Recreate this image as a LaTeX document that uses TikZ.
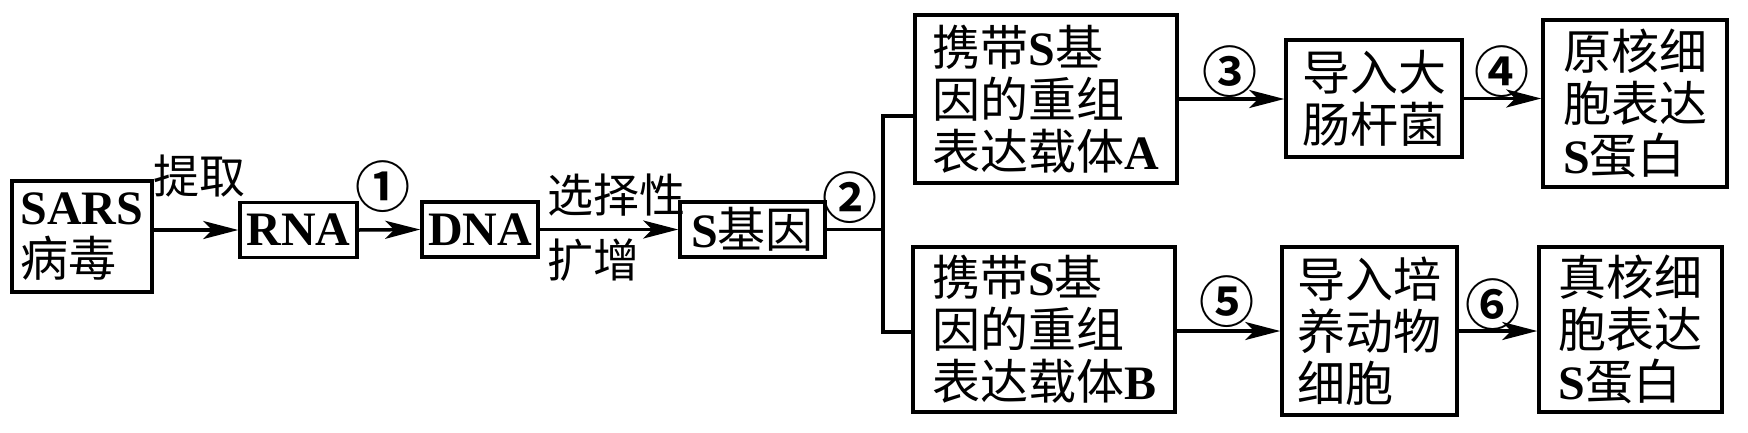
\documentclass[tikz,border=0pt]{standalone}
\usepackage{fontspec}
\setmainfont{Liberation Serif}
\newfontfamily\cjk{Noto Sans CJK SC}[BoldFont={Noto Sans CJK SC Bold}]
\usetikzlibrary{arrows.meta}
\newcommand\zh[1]{{\cjk #1}}
\newcommand\en[1]{{\bfseries #1}}
\tikzset{
  box/.style={draw, line width=3.5pt, inner sep=0pt, align=left, font=\fontsize{48}{52}\selectfont},
  lbl/.style={inner sep=0pt, font=\fontsize{46}{52}\selectfont\cjk},
  num/.style={inner sep=0pt, font=\fontsize{55}{55}\selectfont\cjk\bfseries},
  conn/.style={line width=3.5pt},
  arr/.style={conn, -{Stealth[length=35pt,width=18pt,inset=9pt]}}
}
\begin{document}
\begin{tikzpicture}[x=1pt,y=-1pt]
\fill[white] (0,0) rectangle (1748,432);
\useasboundingbox (0,0) rectangle (1748,432);
% boxes
\node[box, minimum width=140pt, minimum height=111pt] (sars) at (82,236.5) {\en{SARS}\\\zh{病毒}};
\node[box, minimum width=117pt, minimum height=55pt] (rna) at (298.5,230) {\en{RNA}};
\node[box, minimum width=116pt, minimum height=55pt] (dna) at (480,229.5) {\en{DNA}};
\node[box, minimum width=145pt, minimum height=55pt] (sg) at (752.5,229.5) {\en{S}\zh{基因}};
\node[box, minimum width=262pt, minimum height=168pt] (va) at (1046,99) {\zh{携带}\en{S}\zh{基}\\\zh{因的重组}\\\zh{表达载体}\en{A}};
\node[box, minimum width=262pt, minimum height=165pt] (vb) at (1044,329.5) {\zh{携带}\en{S}\zh{基}\\\zh{因的重组}\\\zh{表达载体}\en{B}};
\node[box, minimum width=176pt, minimum height=117pt] (ec) at (1374,98.5) {\zh{导入大}\\\zh{肠杆菌}};
\node[box, minimum width=175pt, minimum height=168pt] (ac) at (1369.5,331) {\zh{导入培}\\\zh{养动物}\\\zh{细胞}};
\node[box, minimum width=184pt, minimum height=167pt] (pk) at (1635,103.5) {\zh{原核细}\\\zh{胞表达}\\\en{S}\zh{蛋白}};
\node[box, minimum width=183pt, minimum height=165pt] (ek) at (1630.5,329.5) {\zh{真核细}\\\zh{胞表达}\\\en{S}\zh{蛋白}};
% labels
\node[lbl] (l1) at (199,176) {提取};
\node[num] (n1) at (383,187) {①};
\node[lbl, anchor=west] (l2) at (547,195) {选择性};
\node[lbl, anchor=west] (l3) at (547,260) {扩增};
\node[num] (n2) at (850,198) {②};
\node[num] (n3) at (1230,72) {③};
\node[num] (n4) at (1502,72) {④};
\node[num] (n5) at (1227,302) {⑤};
\node[num] (n6) at (1493,305) {⑥};
% connectors
\coordinate (jm) at (883,229.5);
\coordinate (ja) at (883,116);
\coordinate (jb) at (883,332);
\draw[arr] (sars.east |- rna.west) -- (rna.west);
\draw[arr] (rna.east) -- (dna.west);
\draw[arr] (dna.east) -- (sg.west);
\draw[conn] (sg.east) -- (jm);
\draw[conn] (va.west |- ja) -- (ja) -- (jb) -- (vb.west |- jb);
\draw[arr] (va.east) -- (va.east -| ec.west);
\draw[arr] (ec.east) -- (ec.east -| pk.west);
\draw[arr] (vb.east |- ac.west) -- (ac.west);
\draw[arr] (ac.east) -- (ac.east -| ek.west);
\end{tikzpicture}
\end{document}
